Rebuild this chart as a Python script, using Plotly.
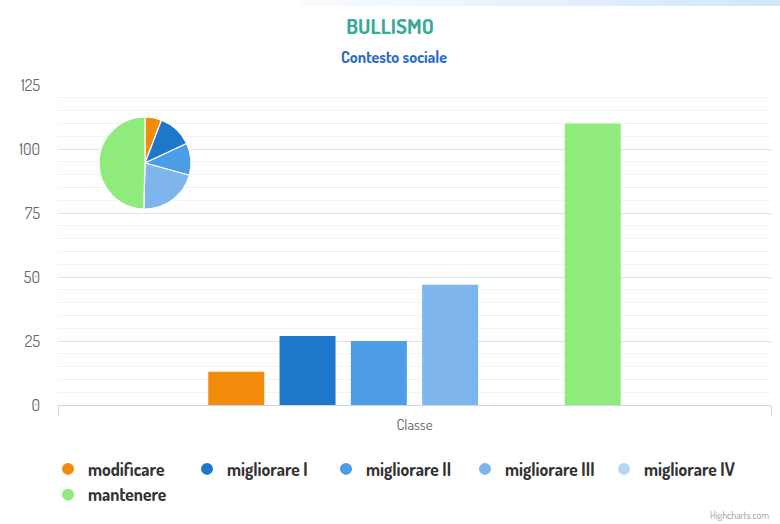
import plotly.graph_objects as go

categories = ["Classe"]
series_names = ["modificare", "migliorare I", "migliorare II", "migliorare III", "migliorare IV", "mantenere"]
series_values = [13, 27, 25, 47, 0, 110]
series_colors = ["#F28A0C", "#1E77CB", "#4C9CE6", "#7DB5EC", "#B5D7F5", "#90EB7D"]
y_ticks = [0, 25, 50, 75, 100, 125]

FONT = "Dosis, 'DejaVu Sans Condensed', 'Roboto Condensed', 'Liberation Sans Narrow', Roboto, sans-serif"

L, T, W, H = 58, 85, 713, 320


def px(x):
    return (x - L) / W


def py(y):
    return (T + H - y) / H


fig = go.Figure()

for name, val, col in zip(series_names, series_values, series_colors):
    fig.add_trace(go.Bar(
        x=categories, y=[val], name=name, marker=dict(color=col, line=dict(width=0)),
        showlegend=False,
    ))
for name, col in zip(series_names, series_colors):
    fig.add_trace(go.Scatter(
        x=[None], y=[None], mode="markers", name=f"<b>{name}</b>",
        marker=dict(symbol="circle", size=17, color=col), showlegend=True,
    ))

fig.add_trace(go.Pie(
    labels=series_names, values=series_values,
    marker=dict(colors=series_colors, line=dict(color="white", width=1.2)),
    sort=False, direction="clockwise", rotation=0, textinfo="none",
    domain=dict(x=[px(99), px(191)], y=[py(209), py(117)]), showlegend=False,
))

# top gradient band
shapes = []
n = 20
x0, x1 = 300, 780
for i in range(n):
    a = x0 + (x1 - x0) * i / n
    b = x0 + (x1 - x0) * (i + 1) / n
    alpha = 0.05 + 0.3 * (i / n)
    shapes.append(dict(type="rect", xref="paper", yref="paper",
                       x0=px(a), x1=px(b), y0=py(6), y1=py(0),
                       fillcolor=f"rgba(120,180,240,{alpha:.3f})", line=dict(width=0), layer="below"))

fig.update_layout(
    width=780, height=524,
    margin=dict(l=L, r=780 - L - W, t=T, b=524 - T - H),
    paper_bgcolor="white", plot_bgcolor="white",
    barmode="group", bargap=0.4, bargroupgap=0.215,
    font=dict(family=FONT, color="#666666"),
    title=dict(text="<b>BULLISMO</b>", x=0.5, xanchor="center", xref="container",
               y=1 - 27 / 524, yanchor="middle", yref="container",
               font=dict(size=21, color="#3AA99A", family=FONT)),
    annotations=[
        dict(text="<b>Contesto sociale</b>", xref="paper", yref="paper", x=px(394),
             y=py(57), xanchor="center", yanchor="middle", showarrow=False,
             font=dict(size=16, color="#2B6CC2", family=FONT)),
        dict(text="Highcharts.com", xref="paper", yref="paper", x=px(771),
             y=py(515), xanchor="right", yanchor="middle", showarrow=False,
             font=dict(size=10, color="#999999", family=FONT)),
    ],
    shapes=shapes,
    xaxis=dict(type="category", tickson="boundaries", ticks="outside", ticklen=10,
               tickcolor="#CCD6EB", showgrid=True, gridcolor="#E6E6E6",
               showline=True, linecolor="#CCD6EB", linewidth=1, ticklabelstandoff=6,
               tickfont=dict(size=15, color="#666666"), range=[-0.5, 0.5]),
    yaxis=dict(range=[0, 125], tickvals=y_ticks, showgrid=True, gridcolor="#E3E3E3",
               zeroline=False, showline=False, ticks="", ticklabelstandoff=17,
               tickfont=dict(size=16, color="#666666"),
               minor=dict(dtick=5, tick0=0, showgrid=True, gridcolor="#F3F3F3", ticks="")),
    legend=dict(orientation="h", xref="container", yref="container",
                x=48 / 780, y=1 - 451 / 524, xanchor="left", yanchor="top",
                entrywidth=94, entrywidthmode="pixels", itemsizing="constant",
                font=dict(size=17.5, color="#333333", family=FONT), traceorder="normal",
                tracegroupgap=0, bgcolor="rgba(0,0,0,0)"),
)

fig.write_html("out.html", post_script="document.body.style.margin='0';",
               config={"displayModeBar": False})
